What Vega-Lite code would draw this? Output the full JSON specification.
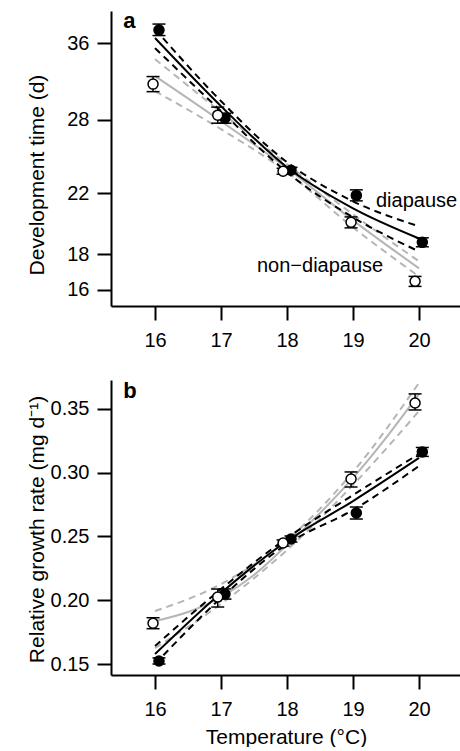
{
  "$schema": "https://vega.github.io/schema/vega-lite/v6.json",
  "padding": {"left": 26, "top": 10, "right": 0, "bottom": 0},
  "autosize": {"type": "pad"},
  "spacing": 74,
  "bounds": "flush",
  "config": {
    "view": {"stroke": null},
    "font": "Liberation Sans",
    "axis": {
      "grid": false,
      "domainColor": "black",
      "domainWidth": 2,
      "tickColor": "black",
      "tickWidth": 2,
      "tickSize": 14,
      "labelFont": "Liberation Sans",
      "labelFontSize": 20,
      "labelColor": "black",
      "labelPadding": 8,
      "titleFont": "Liberation Sans",
      "titleFontSize": 21,
      "titleFontWeight": "normal",
      "titleColor": "black"
    }
  },
  "datasets": {
    "pointsA": [
      {"temp": 16.06, "group": "diapause", "value": 37.57, "lo": 36.90, "hi": 38.32},
      {"temp": 17.06, "group": "diapause", "value": 28.13, "lo": 27.67, "hi": 28.59},
      {"temp": 18.06, "group": "diapause", "value": 23.71, "lo": 23.48, "hi": 23.94},
      {"temp": 19.05, "group": "diapause", "value": 21.83, "lo": 21.44, "hi": 22.23},
      {"temp": 20.05, "group": "diapause", "value": 18.71, "lo": 18.44, "hi": 18.99},
      {"temp": 15.97, "group": "non-diapause", "value": 31.46, "lo": 30.69, "hi": 32.25},
      {"temp": 16.95, "group": "non-diapause", "value": 28.41, "lo": 27.67, "hi": 29.17},
      {"temp": 17.94, "group": "non-diapause", "value": 23.63, "lo": 23.40, "hi": 23.86},
      {"temp": 18.97, "group": "non-diapause", "value": 19.98, "lo": 19.62, "hi": 20.34},
      {"temp": 19.94, "group": "non-diapause", "value": 16.46, "lo": 16.19, "hi": 16.73}
    ],
    "linesA": [
      {"temp": 16, "group": "diapause", "kind": "fit", "value": 36.60},
      {"temp": 17, "group": "diapause", "kind": "fit", "value": 29.26},
      {"temp": 18, "group": "diapause", "kind": "fit", "value": 23.94},
      {"temp": 19, "group": "diapause", "kind": "fit", "value": 20.92},
      {"temp": 20, "group": "diapause", "kind": "fit", "value": 18.95},
      {"temp": 16, "group": "diapause", "kind": "upper", "value": 37.70},
      {"temp": 17, "group": "diapause", "kind": "upper", "value": 29.75},
      {"temp": 18, "group": "diapause", "kind": "upper", "value": 24.34},
      {"temp": 19, "group": "diapause", "kind": "upper", "value": 21.41},
      {"temp": 20, "group": "diapause", "kind": "upper", "value": 19.72},
      {"temp": 16, "group": "diapause", "kind": "lower", "value": 35.41},
      {"temp": 17, "group": "diapause", "kind": "lower", "value": 28.79},
      {"temp": 18, "group": "diapause", "kind": "lower", "value": 23.55},
      {"temp": 19, "group": "diapause", "kind": "lower", "value": 20.31},
      {"temp": 20, "group": "diapause", "kind": "lower", "value": 18.16},
      {"temp": 16, "group": "non-diapause", "kind": "fit", "value": 32.30},
      {"temp": 17, "group": "non-diapause", "kind": "fit", "value": 27.85},
      {"temp": 18, "group": "non-diapause", "kind": "fit", "value": 23.86},
      {"temp": 19, "group": "non-diapause", "kind": "fit", "value": 20.11},
      {"temp": 20, "group": "non-diapause", "kind": "fit", "value": 17.18},
      {"temp": 16, "group": "non-diapause", "kind": "upper", "value": 34.15},
      {"temp": 17, "group": "non-diapause", "kind": "upper", "value": 28.69},
      {"temp": 18, "group": "non-diapause", "kind": "upper", "value": 24.18},
      {"temp": 19, "group": "non-diapause", "kind": "upper", "value": 20.51},
      {"temp": 20, "group": "non-diapause", "kind": "upper", "value": 17.58},
      {"temp": 16, "group": "non-diapause", "kind": "lower", "value": 30.74},
      {"temp": 17, "group": "non-diapause", "kind": "lower", "value": 27.13},
      {"temp": 18, "group": "non-diapause", "kind": "lower", "value": 23.55},
      {"temp": 19, "group": "non-diapause", "kind": "lower", "value": 19.65},
      {"temp": 20, "group": "non-diapause", "kind": "lower", "value": 16.73}
    ],
    "labelsA": [
      {"temp": 19.348, "value": 20.99, "label": "diapause"},
      {"temp": 17.545, "value": 16.95, "label": "non−diapause"}
    ],
    "panelA": [
      {"temp": 15.52, "value": 37.8, "label": "a"}
    ],
    "pointsB": [
      {"temp": 16.06, "group": "diapause", "value": 0.1524, "lo": 0.1500, "hi": 0.1548},
      {"temp": 17.06, "group": "diapause", "value": 0.2049, "lo": 0.2009, "hi": 0.2089},
      {"temp": 18.06, "group": "diapause", "value": 0.2480, "lo": 0.2456, "hi": 0.2504},
      {"temp": 19.05, "group": "diapause", "value": 0.2684, "lo": 0.2637, "hi": 0.2731},
      {"temp": 20.05, "group": "diapause", "value": 0.3163, "lo": 0.3128, "hi": 0.3198},
      {"temp": 15.97, "group": "non-diapause", "value": 0.1820, "lo": 0.1777, "hi": 0.1863},
      {"temp": 16.95, "group": "non-diapause", "value": 0.2025, "lo": 0.1947, "hi": 0.2088},
      {"temp": 17.94, "group": "non-diapause", "value": 0.2449, "lo": 0.2425, "hi": 0.2473},
      {"temp": 18.97, "group": "non-diapause", "value": 0.2951, "lo": 0.2888, "hi": 0.3006},
      {"temp": 19.94, "group": "non-diapause", "value": 0.3547, "lo": 0.3492, "hi": 0.3618}
    ],
    "linesB": [
      {"temp": 16, "group": "diapause", "kind": "fit", "value": 0.1578},
      {"temp": 17, "group": "diapause", "kind": "fit", "value": 0.2057},
      {"temp": 18, "group": "diapause", "kind": "fit", "value": 0.2465},
      {"temp": 19, "group": "diapause", "kind": "fit", "value": 0.2778},
      {"temp": 20, "group": "diapause", "kind": "fit", "value": 0.3116},
      {"temp": 16, "group": "diapause", "kind": "upper", "value": 0.1641},
      {"temp": 17, "group": "diapause", "kind": "upper", "value": 0.2088},
      {"temp": 18, "group": "diapause", "kind": "upper", "value": 0.2488},
      {"temp": 19, "group": "diapause", "kind": "upper", "value": 0.2825},
      {"temp": 20, "group": "diapause", "kind": "upper", "value": 0.3147},
      {"temp": 16, "group": "diapause", "kind": "lower", "value": 0.1500},
      {"temp": 17, "group": "diapause", "kind": "lower", "value": 0.2018},
      {"temp": 18, "group": "diapause", "kind": "lower", "value": 0.2441},
      {"temp": 19, "group": "diapause", "kind": "lower", "value": 0.2708},
      {"temp": 20, "group": "diapause", "kind": "lower", "value": 0.3053},
      {"temp": 16, "group": "non-diapause", "kind": "fit", "value": 0.1837},
      {"temp": 16.5, "group": "non-diapause", "kind": "fit", "value": 0.1908},
      {"temp": 17, "group": "non-diapause", "kind": "fit", "value": 0.2025},
      {"temp": 17.5, "group": "non-diapause", "kind": "fit", "value": 0.2198},
      {"temp": 18, "group": "non-diapause", "kind": "fit", "value": 0.2433},
      {"temp": 18.5, "group": "non-diapause", "kind": "fit", "value": 0.2684},
      {"temp": 19, "group": "non-diapause", "kind": "fit", "value": 0.2959},
      {"temp": 19.5, "group": "non-diapause", "kind": "fit", "value": 0.3273},
      {"temp": 20, "group": "non-diapause", "kind": "fit", "value": 0.3618},
      {"temp": 16, "group": "non-diapause", "kind": "upper", "value": 0.1916},
      {"temp": 17, "group": "non-diapause", "kind": "upper", "value": 0.2127},
      {"temp": 18, "group": "non-diapause", "kind": "upper", "value": 0.2473},
      {"temp": 19, "group": "non-diapause", "kind": "upper", "value": 0.3006},
      {"temp": 20, "group": "non-diapause", "kind": "upper", "value": 0.3704},
      {"temp": 16, "group": "non-diapause", "kind": "lower", "value": 0.1625},
      {"temp": 17, "group": "non-diapause", "kind": "lower", "value": 0.1971},
      {"temp": 18, "group": "non-diapause", "kind": "lower", "value": 0.2394},
      {"temp": 19, "group": "non-diapause", "kind": "lower", "value": 0.2904},
      {"temp": 20, "group": "non-diapause", "kind": "lower", "value": 0.3484}
    ],
    "panelB": [
      {"temp": 15.52, "value": 0.3586, "label": "b"}
    ]
  },
  "vconcat": [
    {
      "width": 350,
      "height": 295,
      "layer": [
        {
          "data": {"name": "linesA"},
          "transform": [{"filter": "datum.group == 'non-diapause' && datum.kind != 'fit'"}],
          "mark": {"type": "line", "color": "#b5b5b5", "strokeWidth": 2, "strokeDash": [7, 5], "interpolate": "monotone"},
          "encoding": {
            "x": {"field": "temp", "type": "quantitative", "scale": {"domain": [15.333, 20.636], "nice": false, "zero": false},
                  "axis": {"values": [16, 17, 18, 19, 20], "format": "d", "title": null, "labelPadding": 10}},
            "y": {"field": "value", "type": "quantitative", "scale": {"type": "log", "domain": [15.18, 40], "nice": false},
                  "axis": {"values": [16, 18, 22, 28, 36], "format": "d", "title": "Development time (d)", "titleX": -74, "titleY": 163.5, "titleBaseline": "middle", "titleAlign": "center", "titleAngle": -90}},
            "detail": {"field": "kind"}
          }
        },
        {
          "data": {"name": "linesA"},
          "transform": [{"filter": "datum.group == 'non-diapause' && datum.kind == 'fit'"}],
          "mark": {"type": "line", "color": "#b5b5b5", "strokeWidth": 2, "interpolate": "monotone"},
          "encoding": {
            "x": {"field": "temp", "type": "quantitative"},
            "y": {"field": "value", "type": "quantitative"}
          }
        },
        {
          "data": {"name": "linesA"},
          "transform": [{"filter": "datum.group == 'diapause' && datum.kind != 'fit'"}],
          "mark": {"type": "line", "color": "black", "strokeWidth": 2, "strokeDash": [7, 5], "interpolate": "monotone"},
          "encoding": {
            "x": {"field": "temp", "type": "quantitative"},
            "y": {"field": "value", "type": "quantitative"},
            "detail": {"field": "kind"}
          }
        },
        {
          "data": {"name": "linesA"},
          "transform": [{"filter": "datum.group == 'diapause' && datum.kind == 'fit'"}],
          "mark": {"type": "line", "color": "black", "strokeWidth": 2, "interpolate": "monotone"},
          "encoding": {
            "x": {"field": "temp", "type": "quantitative"},
            "y": {"field": "value", "type": "quantitative"}
          }
        },
        {
          "data": {"name": "pointsA"},
          "mark": {"type": "rule", "color": "black", "strokeWidth": 1.5},
          "encoding": {
            "x": {"field": "temp", "type": "quantitative"},
            "y": {"field": "lo", "type": "quantitative"},
            "y2": {"field": "hi"}
          }
        },
        {
          "data": {"name": "pointsA"},
          "mark": {"type": "tick", "orient": "horizontal", "color": "black", "size": 13, "thickness": 1.5, "opacity": 1},
          "encoding": {
            "x": {"field": "temp", "type": "quantitative"},
            "y": {"field": "lo", "type": "quantitative"}
          }
        },
        {
          "data": {"name": "pointsA"},
          "mark": {"type": "tick", "orient": "horizontal", "color": "black", "size": 13, "thickness": 1.5, "opacity": 1},
          "encoding": {
            "x": {"field": "temp", "type": "quantitative"},
            "y": {"field": "hi", "type": "quantitative"}
          }
        },
        {
          "data": {"name": "pointsA"},
          "mark": {"type": "point", "shape": "circle", "filled": true, "size": 100, "stroke": "black", "strokeWidth": 1.5, "opacity": 1},
          "encoding": {
            "x": {"field": "temp", "type": "quantitative"},
            "y": {"field": "value", "type": "quantitative"},
            "fill": {"field": "group", "type": "nominal", "scale": {"domain": ["diapause", "non-diapause"], "range": ["black", "white"]}, "legend": null}
          }
        },
        {
          "data": {"name": "labelsA"},
          "mark": {"type": "text", "align": "left", "baseline": "alphabetic", "fontSize": 20, "font": "Liberation Sans", "color": "black"},
          "encoding": {
            "x": {"field": "temp", "type": "quantitative"},
            "y": {"field": "value", "type": "quantitative"},
            "text": {"field": "label"}
          }
        },
        {
          "data": {"name": "panelA"},
          "mark": {"type": "text", "align": "left", "baseline": "alphabetic", "fontSize": 22, "fontWeight": "bold", "font": "Liberation Sans", "color": "black"},
          "encoding": {
            "x": {"field": "temp", "type": "quantitative"},
            "y": {"field": "value", "type": "quantitative"},
            "text": {"field": "label"}
          }
        }
      ]
    },
    {
      "width": 350,
      "height": 295,
      "layer": [
        {
          "data": {"name": "linesB"},
          "transform": [{"filter": "datum.group == 'non-diapause' && datum.kind != 'fit'"}],
          "mark": {"type": "line", "color": "#b5b5b5", "strokeWidth": 2, "strokeDash": [7, 5], "interpolate": "monotone"},
          "encoding": {
            "x": {"field": "temp", "type": "quantitative", "scale": {"domain": [15.333, 20.636], "nice": false, "zero": false},
                  "axis": {"values": [16, 17, 18, 19, 20], "format": "d", "title": "Temperature (°C)", "labelPadding": 10, "titleX": 175, "titleY": 68, "titleBaseline": "alphabetic", "titleAlign": "center"}},
            "y": {"field": "value", "type": "quantitative", "scale": {"domain": [0.1414, 0.3727], "nice": false, "zero": false},
                  "axis": {"values": [0.15, 0.2, 0.25, 0.3, 0.35], "format": ".2f", "title": "Relative growth rate (mg d⁻¹)", "titleX": -74, "titleY": 149, "titleBaseline": "middle", "titleAlign": "center", "titleAngle": -90}},
            "detail": {"field": "kind"}
          }
        },
        {
          "data": {"name": "linesB"},
          "transform": [{"filter": "datum.group == 'non-diapause' && datum.kind == 'fit'"}],
          "mark": {"type": "line", "color": "#b5b5b5", "strokeWidth": 2, "interpolate": "monotone"},
          "encoding": {
            "x": {"field": "temp", "type": "quantitative"},
            "y": {"field": "value", "type": "quantitative"}
          }
        },
        {
          "data": {"name": "linesB"},
          "transform": [{"filter": "datum.group == 'diapause' && datum.kind != 'fit'"}],
          "mark": {"type": "line", "color": "black", "strokeWidth": 2, "strokeDash": [7, 5], "interpolate": "monotone"},
          "encoding": {
            "x": {"field": "temp", "type": "quantitative"},
            "y": {"field": "value", "type": "quantitative"},
            "detail": {"field": "kind"}
          }
        },
        {
          "data": {"name": "linesB"},
          "transform": [{"filter": "datum.group == 'diapause' && datum.kind == 'fit'"}],
          "mark": {"type": "line", "color": "black", "strokeWidth": 2, "interpolate": "monotone"},
          "encoding": {
            "x": {"field": "temp", "type": "quantitative"},
            "y": {"field": "value", "type": "quantitative"}
          }
        },
        {
          "data": {"name": "pointsB"},
          "mark": {"type": "rule", "color": "black", "strokeWidth": 1.5},
          "encoding": {
            "x": {"field": "temp", "type": "quantitative"},
            "y": {"field": "lo", "type": "quantitative"},
            "y2": {"field": "hi"}
          }
        },
        {
          "data": {"name": "pointsB"},
          "mark": {"type": "tick", "orient": "horizontal", "color": "black", "size": 13, "thickness": 1.5, "opacity": 1},
          "encoding": {
            "x": {"field": "temp", "type": "quantitative"},
            "y": {"field": "lo", "type": "quantitative"}
          }
        },
        {
          "data": {"name": "pointsB"},
          "mark": {"type": "tick", "orient": "horizontal", "color": "black", "size": 13, "thickness": 1.5, "opacity": 1},
          "encoding": {
            "x": {"field": "temp", "type": "quantitative"},
            "y": {"field": "hi", "type": "quantitative"}
          }
        },
        {
          "data": {"name": "pointsB"},
          "mark": {"type": "point", "shape": "circle", "filled": true, "size": 100, "stroke": "black", "strokeWidth": 1.5, "opacity": 1},
          "encoding": {
            "x": {"field": "temp", "type": "quantitative"},
            "y": {"field": "value", "type": "quantitative"},
            "fill": {"field": "group", "type": "nominal", "scale": {"domain": ["diapause", "non-diapause"], "range": ["black", "white"]}, "legend": null}
          }
        },
        {
          "data": {"name": "panelB"},
          "mark": {"type": "text", "align": "left", "baseline": "alphabetic", "fontSize": 22, "fontWeight": "bold", "font": "Liberation Sans", "color": "black"},
          "encoding": {
            "x": {"field": "temp", "type": "quantitative"},
            "y": {"field": "value", "type": "quantitative"},
            "text": {"field": "label"}
          }
        }
      ]
    }
  ]
}
